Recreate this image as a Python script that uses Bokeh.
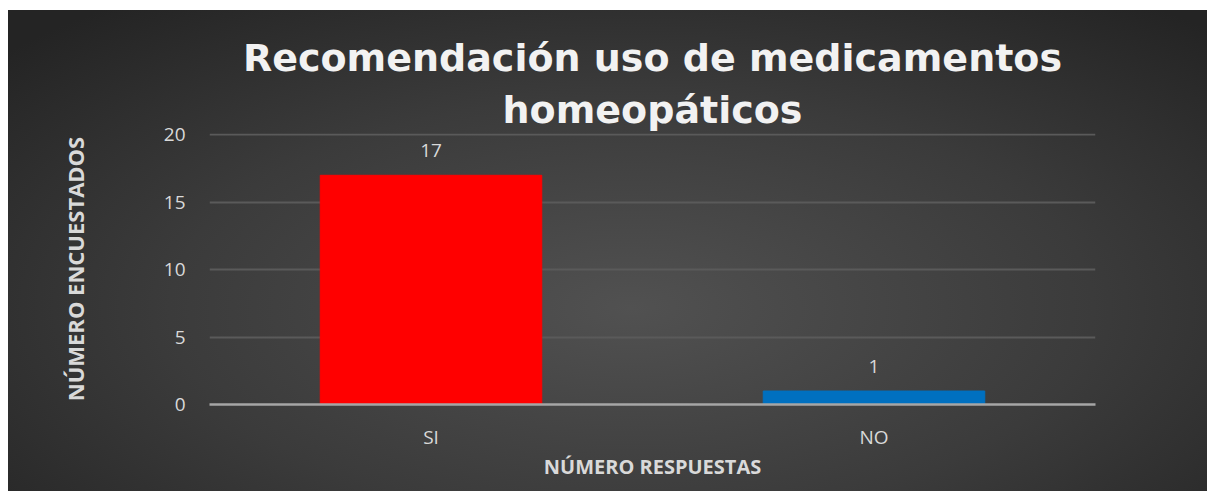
from bokeh.plotting import figure
from bokeh.models import ColumnDataSource, FactorRange, FixedTicker, Title
from bokeh.core.properties import value
from bokeh.embed import file_html
from bokeh.resources import INLINE

categories = ["SI", "NO"]
counts = [17, 1]
bar_colors = ["#FF0000", "#0070C0"]
y_ticks = [0, 5, 10, 15, 20]
title_lines = ["Recomendación uso de medicamentos", "homeopáticos"]

src = ColumnDataSource(dict(cat=categories, val=counts, color=bar_colors,
                            lbl=[str(v) for v in counts]))

p = figure(x_range=FactorRange(*categories), y_range=(0, 20.1),
           width=1199, height=481, output_backend="svg", toolbar_location=None,
           min_border_left=201, min_border_right=112, min_border_top=0,
           min_border_bottom=87, title=None)
p.margin = (10, 0, 0, 8)
p.styles = {"background": "radial-gradient(ellipse 70% 80% at 52% 62%, #515151 0%, #3b3b3b 55%, #242424 100%)"}
p.background_fill_alpha = 0
p.border_fill_alpha = 0
p.outline_line_color = None

for line, so in zip(reversed(title_lines), [4, 8]):
    p.add_layout(Title(text=line, align="center", text_font="DejaVu Sans",
                       text_font_size="38px", text_font_style="bold",
                       text_color="#f2f2f2", standoff=so), "above")
p.add_layout(Title(text="\u00a0", text_font_size="16px", standoff=0), "above")

p.vbar(x="cat", top="val", width=0.5, color="color", source=src)
p.text(x="cat", y="val", text="lbl", source=src, text_align="center",
       text_baseline="bottom", y_offset=-18, text_color="#d9d9d9",
       text_font=value("Open Sans"), text_font_size="19px")

p.xgrid.grid_line_color = None
p.ygrid.grid_line_color = "#5a5a5a"
p.ygrid.grid_line_width = 2
p.ygrid.ticker = FixedTicker(ticks=y_ticks)

p.yaxis.ticker = FixedTicker(ticks=y_ticks)
p.yaxis.axis_line_color = None
p.yaxis.major_tick_line_color = None
p.yaxis.minor_tick_line_color = None
p.yaxis.major_tick_out = 0
p.yaxis.major_label_standoff = 24
p.yaxis.axis_label = "NÚMERO ENCUESTADOS"
p.yaxis.axis_label_standoff = 71

p.xaxis.axis_line_color = "#a6a6a6"
p.xaxis.axis_line_width = 2.5
p.xaxis.major_tick_line_color = None
p.xaxis.minor_tick_line_color = None
p.xaxis.major_tick_out = 0
p.xaxis.major_label_standoff = 19
p.xaxis.axis_label = "NÚMERO RESPUESTAS"
p.xaxis.axis_label_standoff = 0

for ax in (p.xaxis, p.yaxis):
    ax.major_label_text_font = "Open Sans"
    ax.major_label_text_font_size = "19px"
    ax.major_label_text_color = "#d9d9d9"
    ax.axis_label_text_font = "Open Sans"
    ax.axis_label_text_font_style = "bold"
    ax.axis_label_text_color = "#d9d9d9"
p.xaxis.axis_label_text_font_size = "20px"
p.yaxis.axis_label_text_font_size = "22px"

open("out.html", "w").write(file_html(p, INLINE))
